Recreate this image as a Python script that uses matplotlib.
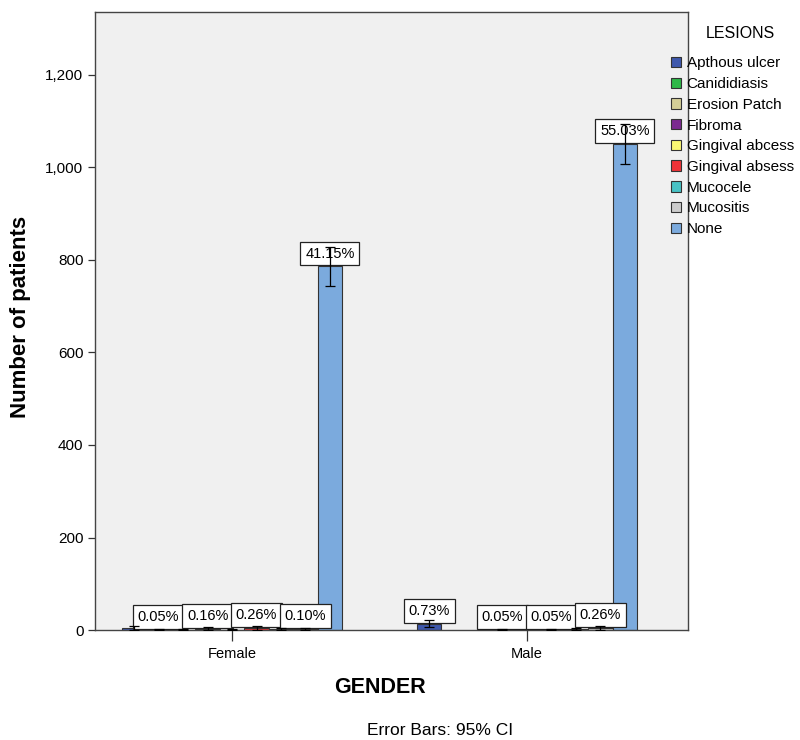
import numpy as np
import matplotlib
matplotlib.use("Agg")
import matplotlib.pyplot as plt
from matplotlib.patches import Patch
from matplotlib.ticker import FuncFormatter

plt.rcParams['font.family'] = ['Liberation Sans', 'DejaVu Sans']

# ---- data -------------------------------------------------------------
genders = ["Female", "Male"]
lesions = ["Apthous ulcer", "Canididiasis", "Erosion Patch", "Fibroma",
           "Gingival abcess", "Gingival absess", "Mucocele", "Mucositis", "None"]
female_counts = [5, 1, 1, 3, 1, 5, 2, 2, 786]
male_counts = [14, 0, 0, 1, 0, 1, 2, 5, 1051]
total_patients = 1910
female_labelled = ["Canididiasis", "Fibroma", "Gingival absess", "Mucositis", "None"]
male_labelled = ["Apthous ulcer", "Fibroma", "Gingival absess", "Mucositis", "None"]
y_ticks = [0, 200, 400, 600, 800, 1000, 1200]

colors = ["#3E58AC", "#2EB848", "#D3CE97", "#7B2A90", "#FBF873",
          "#EF3338", "#48C2C5", "#CCCCCC", "#7BAADD"]

# ---- figure -----------------------------------------------------------
fig = plt.figure(figsize=(8, 7.4), dpi=100)
ax = fig.add_axes([0.119, 0.1486, 0.741, 0.8352])
ax.set_facecolor("#F0F0F0")

n = len(lesions)
bar_w = 0.083
group_x = np.arange(len(genders))
offsets = (np.arange(n) - (n - 1) / 2) * bar_w

all_counts = [female_counts, male_counts]
all_labelled = [female_labelled, male_labelled]

for gi, counts in enumerate(all_counts):
    for li, c in enumerate(counts):
        x = group_x[gi] + offsets[li]
        if c <= 0:
            continue
        ax.bar(x, c, width=bar_w, color=colors[li], edgecolor="#333333",
               linewidth=0.8, zorder=2)
        # 95% CI of a count out of the total number of patients
        p = c / total_patients
        half = 1.96 * np.sqrt(total_patients * p * (1 - p))
        ax.errorbar(x, c, yerr=half, fmt="none", ecolor="black",
                    elinewidth=0.9, capsize=3.5, capthick=0.9, zorder=4)
        if lesions[li] in all_labelled[gi]:
            ax.annotate(f"{c / total_patients * 100:.2f}%", (x, c),
                        xytext=(0, 4.2), textcoords="offset points",
                        ha="center", va="bottom", fontsize=10.5, zorder=3,
                        bbox=dict(boxstyle="square,pad=0.33", fc="white",
                                  ec="#222222", lw=0.9))

ax.set_xlim(-0.464, 1.546)
ax.set_ylim(0, 1336)
ax.set_xticks(group_x)
ax.set_xticklabels(genders, fontsize=10.5)
ax.set_yticks(y_ticks)
ax.yaxis.set_major_formatter(FuncFormatter(lambda v, _: f"{int(v):,}"))
ax.tick_params(axis="y", labelsize=11, length=5, width=0.9, color="#333333")
ax.tick_params(axis="x", length=8, width=0.9, color="#333333", pad=4)
for s in ax.spines.values():
    s.set_color("#444444")
    s.set_linewidth(1.0)

fig.text(0.026, 0.572, "Number of patients", rotation=90, ha="center", va="center",
         fontsize=16, fontweight="bold")
fig.text(0.475, 0.0716, "GENDER", ha="center", va="center",
         fontsize=15.5, fontweight="bold")
fig.text(0.55, 0.0122, "Error Bars: 95% CI", ha="center", va="center", fontsize=12.5)

handles = [Patch(facecolor=colors[i], edgecolor="#333333", linewidth=0.8)
           for i in range(n)]
fig.text(0.925, 0.9554, "LESIONS", ha="center", va="center", fontsize=11.5)
fig.legend(handles, lesions, loc="upper left", bbox_to_anchor=(0.831, 0.932),
           frameon=False, fontsize=11, handlelength=0.68, handleheight=0.68,
           handletextpad=0.35, labelspacing=0.44, borderaxespad=0)

fig.savefig("out.png", dpi=100)
